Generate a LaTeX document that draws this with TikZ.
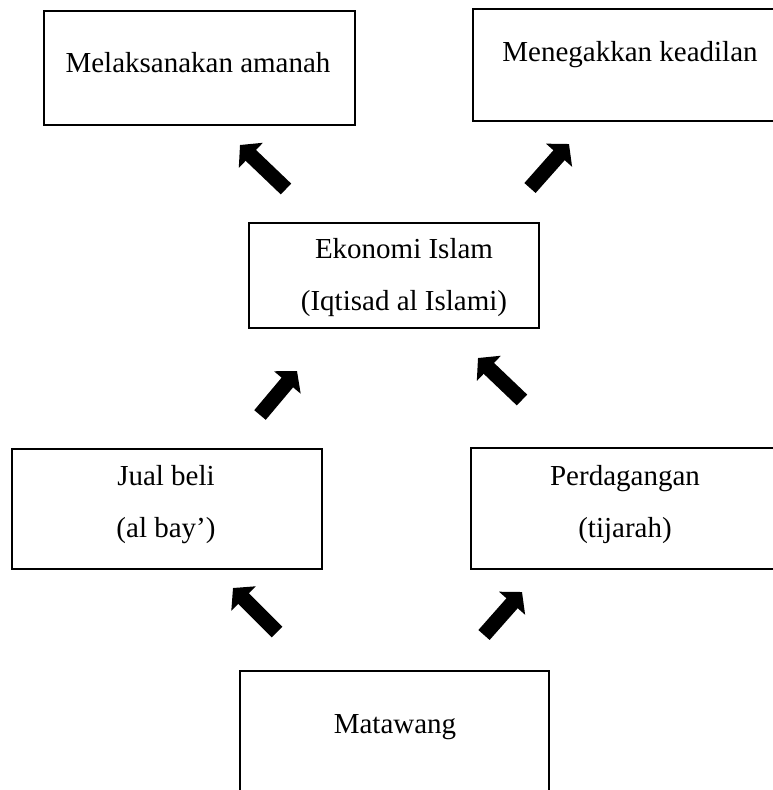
\documentclass[tikz,border=0pt]{standalone}
\usepackage{fontspec}
\setmainfont{Liberation Serif}
\usetikzlibrary{arrows.meta}

\begin{document}
\begin{tikzpicture}[x=1pt, y=-1pt,
	box/.style={draw, line width=2pt, anchor=north west, inner sep=0pt},
	txt/.style={font=\fontsize{29}{52}\selectfont, align=center, inner sep=0pt},
	blk/.style={line width=15pt, -{Triangle[length=15pt,width=34pt]}}]
	\useasboundingbox (0,0) rectangle (773,790);

	\node[box, minimum width=311pt, minimum height=114pt] (amanah) at (43,10) {};
	\node[box, minimum width=316pt, minimum height=112pt] (adil) at (472,8) {};
	\node[box, minimum width=290pt, minimum height=105pt] (ekonomi) at (248,222) {};
	\node[box, minimum width=310pt, minimum height=120pt] (jual) at (11,448) {};
	\node[box, minimum width=312pt, minimum height=121pt] (dagang) at (470,447) {};
	\node[box, minimum width=309pt, minimum height=140pt] (wang) at (239,670) {};

	\node[txt] (amanahT) at (198,63) {Melaksanakan amanah};
	\node[txt] (adilT) at (630,55) {Menegakkan keadilan};
	\node[txt] (ekonomiT) at (404,278) {Ekonomi Islam\\(Iqtisad al Islami)};
	\node[txt] (jualT) at (166,505) {Jual beli\\(al bay’)};
	\node[txt] (dagangT) at (625,505) {Perdagangan\\(tijarah)};
	\node[txt] (wangT) at (395,727) {Matawang};

	\coordinate (t1) at (286,189); \coordinate (h1) at (240,145);
	\coordinate (t2) at (530,188); \coordinate (h2) at (569,144);
	\coordinate (t3) at (260,415); \coordinate (h3) at (297,371);
	\coordinate (t4) at (522,400); \coordinate (h4) at (478,358);
	\coordinate (t5) at (277,632); \coordinate (h5) at (233,588);
	\coordinate (t6) at (484,635); \coordinate (h6) at (522,592);

	\draw[blk] (t1) -- (h1);
	\draw[blk] (t2) -- (h2);
	\draw[blk] (t3) -- (h3);
	\draw[blk] (t4) -- (h4);
	\draw[blk] (t5) -- (h5);
	\draw[blk] (t6) -- (h6);
\end{tikzpicture}
\end{document}
